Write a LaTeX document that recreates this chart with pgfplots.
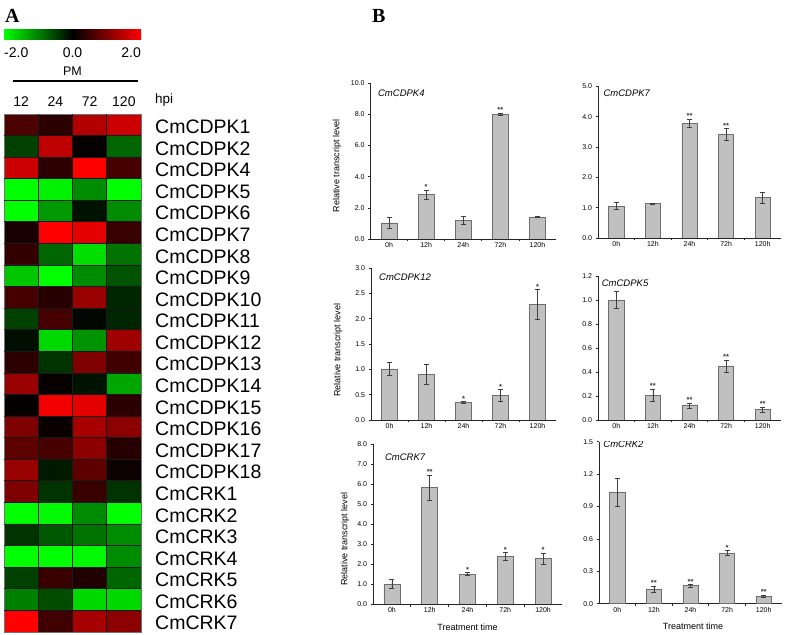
\documentclass[border=0pt]{standalone}
\usepackage{fontspec}
\setmainfont{Liberation Sans}
\newfontfamily\serifbf{Liberation Serif}
\usepackage{pgfplots}
\usepackage{pgfplotstable}
\pgfplotsset{compat=1.18}
\pgfplotsset{/pgf/number format/assume math mode=true}
\definecolor{barfill}{RGB}{192,192,192}
\definecolor{barline}{RGB}{110,110,110}

\pgfplotstableread{
x y c
0 0 0.6
1 0 0.35
2 0 1.4
3 0 1.6
0 1 -0.5
1 1 1.5
2 1 0.05
3 1 -0.8
0 2 1.6
1 2 0.35
2 2 2.0
3 2 0.55
0 3 -2.0
1 3 -1.9
2 3 -1.1
3 3 -2.0
0 4 -2.0
1 4 -1.2
2 4 -0.15
3 4 -1.1
0 5 0.2
1 5 2.0
2 5 1.8
3 5 0.45
0 6 0.4
1 6 -0.8
2 6 -1.75
3 6 -0.9
0 7 -1.55
1 7 -2.0
2 7 -1.1
3 7 -0.65
0 8 0.55
1 8 0.3
2 8 1.2
3 8 -0.3
0 9 -0.5
1 9 0.55
2 9 -0.05
3 9 -0.3
0 10 -0.12
1 10 -1.7
2 10 -1.15
3 10 1.25
0 11 0.35
1 11 -0.4
2 11 1.0
3 11 0.5
0 12 1.2
1 12 0.05
2 12 -0.15
3 12 -1.3
0 13 0.03
1 13 1.9
2 13 1.8
3 13 0.35
0 14 1.0
1 14 0.08
2 14 1.3
3 14 1.1
0 15 0.75
1 15 0.55
2 15 1.1
3 15 0.3
0 16 1.2
1 16 -0.2
2 16 0.75
3 16 0.1
0 17 1.0
1 17 -0.4
2 17 0.45
3 17 -0.4
0 18 -2.0
1 18 -1.95
2 18 -1.1
3 18 -2.0
0 19 -0.4
1 19 -0.7
2 19 -0.9
3 19 -1.1
0 20 -2.0
1 20 -2.0
2 20 -1.95
3 20 -1.1
0 21 -0.5
1 21 0.45
2 21 0.25
3 21 -0.8
0 22 -1.0
1 22 -0.6
2 22 -1.7
3 22 -1.7
0 23 2.0
1 23 0.5
2 23 1.3
3 23 1.1
}\heat

\pgfplotsset{
  barpanel/.style={
    scale only axis, anchor=south west,
    axis x line*=bottom, axis y line*=left,
    xmin=-0.5, xmax=4.5, ymin=0,
    xtick={0.5,1.5,2.5,3.5}, xticklabels={,,,},
    extra x ticks={0,1,2,3,4},
    extra x tick labels={0h,12h,24h,72h,120h},
    extra x tick style={major tick length=0pt},
    tick align=outside,
    major tick length=2.5bp,
    ticklabel style={font=\fontsize{7bp}{8bp}\selectfont},
    yticklabel style={/pgf/number format/.cd, fixed, fixed zerofill, precision=1},
    axis line style={line width=0.7bp, black!85},
    tick style={line width=0.7bp, black!85},
    ylabel style={font=\fontsize{9bp}{10bp}\selectfont, anchor=center},
    xlabel style={font=\fontsize{9bp}{10bp}\selectfont, anchor=center},
  },
  gbar/.style={ybar, bar width=0.42, fill=barfill, draw=barline, line width=0.6bp,
    error bars/.cd, y dir=both, y explicit,
    error bar style={line width=0.6bp, black!75},
    error mark options={rotate=90, mark size=2.5bp, line width=0.6bp, black!75}},
  stars/.style={draw=none, mark=none, nodes near coords, point meta=explicit symbolic,
    nodes near coords style={font=\bfseries\fontsize{7.5bp}{7.5bp}\selectfont, anchor=south, inner sep=0.3bp, text=black!80}},
}
\tikzset{ptitle/.style={anchor=west, inner sep=0pt, font=\itshape\fontsize{9.5bp}{11bp}\selectfont}}

\begin{document}
\begin{tikzpicture}
\useasboundingbox (0,0) rectangle (788bp,635bp);

% panel letters
\node[anchor=base west, inner sep=0pt, font=\serifbf\bfseries\fontsize{20bp}{22bp}\selectfont] at (5bp,612bp) {A};
\node[anchor=base west, inner sep=0pt, font=\serifbf\bfseries\fontsize{20bp}{22bp}\selectfont] at (372bp,612bp) {B};

% heatmap
\begin{axis}[
  at={(4bp,3bp)}, anchor=south west, scale only axis,
  width=137bp, height=518bp,
  xmin=-0.5, xmax=3.5, ymin=-0.5, ymax=23.5, y dir=reverse,
  enlargelimits=false,
  colormap={gkr}{rgb255=(0,255,0) rgb255=(0,0,0) rgb255=(255,0,0)},
  point meta min=-2, point meta max=2,
  xtick={0,1,2,3}, xticklabels={12,24,72,120}, xticklabel pos=upper,
  ytick={0,...,23},
  yticklabels={CmCDPK1,CmCDPK2,CmCDPK4,CmCDPK5,CmCDPK6,CmCDPK7,CmCDPK8,CmCDPK9,CmCDPK10,CmCDPK11,CmCDPK12,CmCDPK13,CmCDPK14,CmCDPK15,CmCDPK16,CmCDPK17,CmCDPK18,CmCRK1,CmCRK2,CmCRK3,CmCRK4,CmCRK5,CmCRK6,CmCRK7},
  yticklabel pos=upper,
  major tick length=0pt,
  extra x ticks={0.5,1.5,2.5}, extra x tick labels={},
  extra y ticks={0.5,1.5,...,22.5}, extra y tick labels={},
  extra tick style={grid=major, major grid style={black!90, line width=0.9bp}, major tick length=0pt},
  axis on top,
  axis line style={black!55, line width=0.6bp},
  xticklabel style={font=\fontsize{14bp}{16bp}\selectfont, inner sep=0pt, yshift=7bp},
  yticklabel style={font=\fontsize{19.5bp}{22bp}\selectfont, inner sep=0pt, xshift=14bp, yshift=-2bp, anchor=west},
  colorbar horizontal,
  colorbar style={at={(0,1.1429)}, anchor=south west, width=137bp, height=10bp,
    scale only axis, xtick=\empty, ytick=\empty, axis line style={draw=none}},
]
\addplot[matrix plot*, mesh/cols=4, point meta=explicit] table[x=x, y=y, meta=c] {\heat};
\end{axis}

\node[anchor=base west, inner sep=0pt, font=\fontsize{14bp}{16bp}\selectfont] at (4bp,577bp) {-2.0};
\node[anchor=base, inner sep=0pt, font=\fontsize{14bp}{16bp}\selectfont] at (72.5bp,577bp) {0.0};
\node[anchor=base east, inner sep=0pt, font=\fontsize{14bp}{16bp}\selectfont] at (141bp,577bp) {2.0};
\node[anchor=base, inner sep=0pt, font=\fontsize{12.5bp}{14bp}\selectfont] at (72.5bp,559bp) {PM};
\draw[line width=1.4bp] (12.7bp,554bp) -- (137.7bp,554bp);
\node[anchor=base west, inner sep=0pt, font=\fontsize{13.5bp}{15bp}\selectfont] at (155bp,531.5bp) {hpi};

% P1 CmCDPK4
\begin{axis}[barpanel, at={(370.5bp,396bp)}, width=185.5bp, height=155.7bp,
  ymax=10, ytick={0,2,...,10},
  ylabel={Relative transcript level}, ylabel style={at={(axis description cs:-0.18,0.469)}}]
\addplot[gbar] coordinates {(0,1.03) +- (0,0.35) (1,2.86) +- (0,0.28) (2,1.2) +- (0,0.26) (3,8.0) +- (0,0.07) (4,1.42) +- (0,0.05)};
\addplot[stars] coordinates {(1,3.14) [*] (3,8.07) [**]};
\node[ptitle] at (rel axis cs:0.04,0.938) {CmCDPK4};
\end{axis}

% P2 CmCDPK7
\begin{axis}[barpanel, at={(598bp,397bp)}, width=183bp, height=151.6bp,
  ymax=5, ytick={0,1,...,5}]
\addplot[gbar] coordinates {(0,1.05) +- (0,0.12) (1,1.13) +- (0,0.02) (2,3.78) +- (0,0.13) (3,3.42) +- (0,0.19) (4,1.33) +- (0,0.18)};
\addplot[stars] coordinates {(2,3.91) [**] (3,3.61) [**]};
\node[ptitle] at (rel axis cs:0.029,0.952) {CmCDPK7};
\end{axis}

% P3 CmCDPK12
\begin{axis}[barpanel, at={(371bp,215bp)}, width=185bp, height=152bp,
  ymax=3, ytick={0,0.5,...,3},
  ylabel={Relative transcript level}, ylabel style={at={(axis description cs:-0.178,0.46)}}]
\addplot[gbar] coordinates {(0,1.01) +- (0,0.13) (1,0.9) +- (0,0.19) (2,0.34) +- (0,0.02) (3,0.48) +- (0,0.12) (4,2.28) +- (0,0.29)};
\addplot[stars] coordinates {(2,0.36) [*] (3,0.6) [*] (4,2.57) [*]};
\node[ptitle] at (rel axis cs:0.043,0.939) {CmCDPK12};
\end{axis}

% P4 CmCDPK5
\begin{axis}[barpanel, at={(598bp,215bp)}, width=183bp, height=144bp,
  ymax=1.2, ytick={0,0.2,...,1.2}]
\addplot[gbar] coordinates {(0,1.0) +- (0,0.07) (1,0.205) +- (0,0.05) (2,0.12) +- (0,0.02) (3,0.45) +- (0,0.05) (4,0.085) +- (0,0.02)};
\addplot[stars] coordinates {(1,0.255) [**] (2,0.14) [**] (3,0.5) [**] (4,0.105) [**]};
\node[ptitle] at (rel axis cs:0.02,0.953) {CmCDPK5};
\end{axis}

% P5 CmCRK7
\begin{axis}[barpanel, at={(373bp,31bp)}, width=189bp, height=159.7bp,
  ymax=8, ytick={0,1,...,8},
  ylabel={Relative transcript level}, ylabel style={at={(axis description cs:-0.148,0.407)}},
  xlabel={Treatment time}, xlabel style={at={(axis description cs:0.5,-0.144)}}]
\addplot[gbar] coordinates {(0,1.0) +- (0,0.22) (1,5.83) +- (0,0.62) (2,1.5) +- (0,0.07) (3,2.37) +- (0,0.2) (4,2.27) +- (0,0.27)};
\addplot[stars] coordinates {(1,6.45) [**] (2,1.57) [*] (3,2.57) [*] (4,2.54) [*]};
\node[ptitle] at (rel axis cs:0.063,0.919) {CmCRK7};
\end{axis}

% P6 CmCRK2
\begin{axis}[barpanel, at={(599bp,31.3bp)}, width=183bp, height=162bp,
  ymax=1.5, ytick={0,0.3,...,1.5},
  xlabel={Treatment time}, xlabel style={at={(axis description cs:0.514,-0.138)}}]
\addplot[gbar] coordinates {(0,1.03) +- (0,0.13) (1,0.134) +- (0,0.03) (2,0.166) +- (0,0.01) (3,0.47) +- (0,0.02) (4,0.07) +- (0,0.01)};
\addplot[stars] coordinates {(1,0.164) [**] (2,0.176) [**] (3,0.49) [*] (4,0.08) [**]};
\node[ptitle] at (rel axis cs:0.023,0.984) {CmCRK2};
\end{axis}
\end{tikzpicture}
\end{document}
